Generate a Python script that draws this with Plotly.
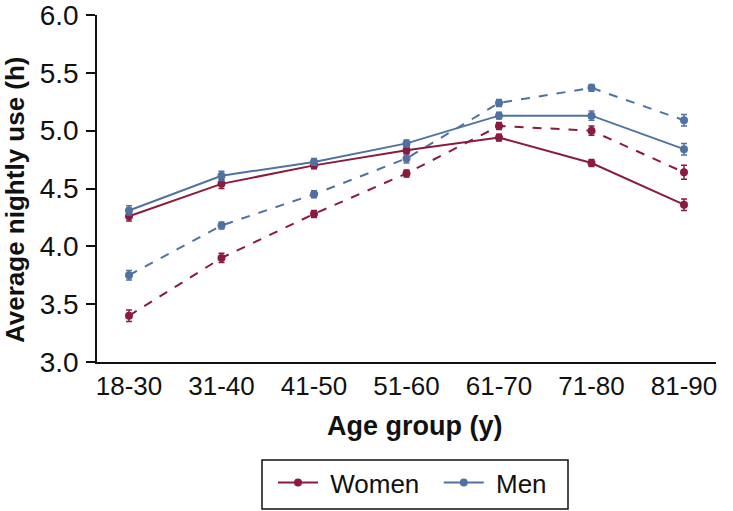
import plotly.graph_objects as go

categories = ["18-30", "31-40", "41-50", "51-60", "61-70", "71-80", "81-90"]
women_solid = [4.26, 4.54, 4.70, 4.83, 4.94, 4.72, 4.36]
women_solid_err = [0.04, 0.04, 0.03, 0.03, 0.03, 0.03, 0.05]
men_solid = [4.31, 4.61, 4.73, 4.89, 5.13, 5.13, 4.84]
men_solid_err = [0.04, 0.04, 0.03, 0.03, 0.03, 0.04, 0.05]
women_dashed = [3.40, 3.90, 4.28, 4.63, 5.04, 5.00, 4.64]
women_dashed_err = [0.05, 0.04, 0.03, 0.03, 0.03, 0.04, 0.06]
men_dashed = [3.75, 4.18, 4.45, 4.76, 5.24, 5.37, 5.09]
men_dashed_err = [0.04, 0.03, 0.03, 0.04, 0.03, 0.03, 0.05]

WOMEN = "#8a1a3e"
MEN = "#5072a2"

fig = go.Figure()

def add(y, err, color, dash, name, show):
    fig.add_trace(go.Scatter(
        x=categories, y=y, name=name, showlegend=show, mode="lines+markers",
        line=dict(color=color, width=2, dash=dash),
        marker=dict(color=color, size=8),
        error_y=dict(type="data", array=err, color=color, thickness=1.5, width=3),
    ))

add(women_dashed, women_dashed_err, WOMEN, "dash", "Women", False)
add(men_dashed, men_dashed_err, MEN, "dash", "Men", False)
add(women_solid, women_solid_err, WOMEN, "solid", "\u00a0Women\u00a0\u00a0", True)
add(men_solid, men_solid_err, MEN, "solid", "\u00a0Men", True)

W, H = 733, 511
L, R, T, B = 97, 716, 15, 362
def px_x(p):
    return (p - L) / (R - L)
def px_y(p):
    return (B - p) / (B - T)

font = "Liberation Sans, Arial, sans-serif"
fig.update_layout(
    width=W, height=H,
    margin=dict(l=L, r=W - R, t=T, b=H - B, autoexpand=False),
    plot_bgcolor="white", paper_bgcolor="white",
    font=dict(family=font, size=26, color="#111111"),
    legend=dict(orientation="h", x=px_x(273), xanchor="left", y=px_y(459), yanchor="top",
                borderwidth=0, bgcolor="rgba(0,0,0,0)", font=dict(size=26),
                traceorder="normal", itemwidth=40),
    shapes=[dict(type="rect", xref="paper", yref="paper",
                 x0=px_x(262), x1=px_x(568), y0=px_y(460), y1=px_y(509),
                 line=dict(color="#111111", width=1.5))],
    annotations=[
        dict(text="<b>Average nightly use (h)</b>", textangle=-90,
             xref="paper", yref="paper", x=px_x(15), y=px_y(200),
             xanchor="center", yanchor="middle", showarrow=False,
             font=dict(size=26, color="#111111")),
        dict(text="<b>Age group (y)</b>",
             xref="paper", yref="paper", x=px_x(415), y=px_y(426),
             xanchor="center", yanchor="middle", showarrow=False,
             font=dict(size=27, color="#111111")),
    ],
    xaxis=dict(
        type="category", range=[-0.346, 6.346], automargin=False,
        showline=True, linecolor="#111111", linewidth=1.5,
        ticks="", showgrid=False, tickfont=dict(size=26),
    ),
    yaxis=dict(
        range=[3.0, 6.0], dtick=0.5, tickformat=".1f", automargin=False,
        showline=True, linecolor="#111111", linewidth=1.5,
        ticks="outside", ticklen=9, tickwidth=1.5, tickcolor="#111111",
        ticklabelstandoff=2, ticklabeloverflow="allow",
        showgrid=False, zeroline=False, tickfont=dict(size=28),
    ),
)

fig.write_html("out.html", config={"displayModeBar": False},
               post_script="document.body.style.margin='0';")
